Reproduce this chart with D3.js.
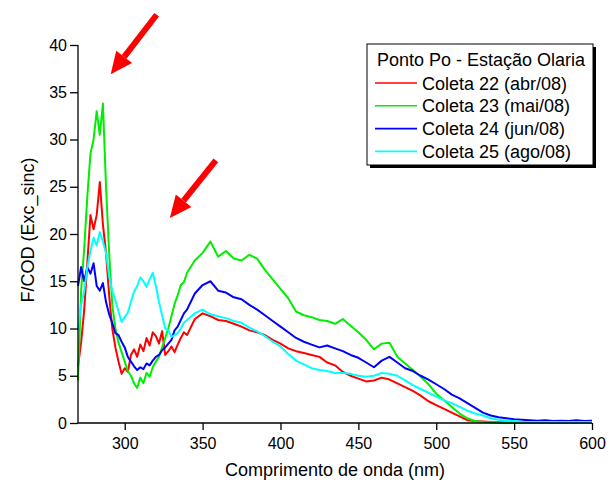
<!DOCTYPE html>
<html>
<head>
<meta charset="utf-8">
<script src="https://cdn.jsdelivr.net/npm/d3@7"></script>
<style>
  body { margin: 0; background: #fff; }
  text { font-family: "Liberation Sans", Arial, sans-serif; fill: #000; }
</style>
</head>
<body>
<div id="chart"></div>
<script>
// Wavelength grid (nm)
const wavelengths = [
  270, 272, 274, 276, 278, 280, 282, 284, 286, 288, 290, 292, 294, 296, 298, 300,
  302, 304, 306, 308, 310, 312, 314, 316, 318, 320, 322, 324, 326, 328, 330, 332,
  334, 336, 338, 340,
  345, 350, 355, 360, 365, 370, 375, 380, 385, 390, 395, 400, 405, 410, 415, 420,
  425, 430, 435, 440, 445, 450, 455, 460, 465, 470, 475, 480, 485, 490, 495, 500,
  505, 510, 515, 520, 525, 530, 535, 540, 545, 550, 555, 560, 565, 570, 575, 580,
  585, 590, 595, 600
];

// Coleta 22 (abr/08)
const coleta22 = [
  6.0, 8.5, 12.0, 17.0, 22.0, 20.5, 22.0, 25.5, 21.0, 18.0, 13.5, 10.0, 8.0, 6.5, 5.2, 5.8,
  5.4, 7.2, 7.8, 7.0, 8.3, 7.6, 9.0, 8.2, 9.6, 9.2, 8.4, 9.7, 7.2, 7.6, 8.1, 7.5,
  8.3, 9.0, 9.6, 9.3,
  11.0, 11.6, 11.3, 10.9, 10.8, 10.5, 10.2, 9.8, 9.6, 9.3, 8.8, 8.4, 7.9, 7.6, 7.4, 7.2,
  7.0, 6.4, 6.1, 5.4, 5.0, 4.7, 4.4, 4.5, 4.8, 4.6, 4.2, 3.8, 3.4, 2.9, 2.3, 1.9,
  1.5, 1.1, 0.7, 0.3, 0.2, 0.15, 0.1, 0.08, 0.06, 0.05, 0.05, 0.04, 0.04, 0.03, 0.03, 0.03,
  0.03, 0.02, 0.02, 0.02
];

// Coleta 23 (mai/08)
const coleta23 = [
  4.5, 14.0, 18.5, 24.0, 28.5, 30.0, 33.0, 30.5, 33.8, 25.0, 18.0, 12.5, 10.0, 8.5, 7.5, 6.5,
  5.5, 5.0, 4.2, 3.7, 4.8, 4.2, 5.3, 4.9, 5.9, 6.5, 7.0, 8.0, 9.0, 10.0, 11.3, 12.6,
  13.5, 14.6, 14.9, 15.9,
  17.2, 18.0, 19.2, 17.6, 18.2, 17.4, 17.2, 17.8, 17.4, 16.2, 15.2, 14.2, 13.2, 11.8, 11.4, 11.2,
  10.9, 10.8, 10.5, 11.0, 10.3, 9.6, 8.8, 7.8, 8.4, 8.5, 7.0, 6.3, 5.6, 4.9, 4.1, 3.1,
  2.4, 1.7, 1.0, 0.5, 0.2, 0.1, 0.05, 0.02, 0.01, 0.0, 0.0, 0.0, 0.0, 0.0, 0.0, 0.0,
  0.0, 0.0, 0.0, 0.0
];

// Coleta 24 (jun/08)
const coleta24 = [
  14.5, 16.5, 15.0, 16.5, 15.8, 16.9, 14.5, 14.0, 14.8, 12.8, 11.5, 10.6, 9.5, 9.3, 8.6, 8.0,
  7.0, 6.5, 6.0, 5.6, 5.9, 5.7, 6.3, 6.1, 6.6, 7.0, 7.2, 7.7, 8.0, 8.4, 8.8, 9.8,
  10.2, 10.9, 11.6, 12.0,
  13.7, 14.6, 15.0, 14.0, 13.8, 13.3, 13.1, 12.5, 12.0, 11.4, 10.8, 10.2, 9.6, 9.0, 8.6, 8.3,
  8.0, 8.2, 7.9, 7.6, 7.2, 6.9, 6.4, 5.9, 6.6, 7.0, 6.4, 5.8, 5.5, 5.0, 4.6, 4.1,
  3.6, 3.0, 2.6, 2.1, 1.6, 1.1, 0.8, 0.6, 0.5, 0.4, 0.35, 0.3, 0.25, 0.3, 0.22, 0.25,
  0.2, 0.28, 0.22, 0.25
];

// Coleta 25 (ago/08)
const coleta25 = [
  9.8, 12.5, 14.0, 16.5, 18.2, 19.6, 18.8, 20.2, 19.2, 18.0, 15.5, 14.0, 13.0, 11.8, 10.7, 11.2,
  11.7, 12.8, 13.9, 14.5, 15.4, 15.0, 14.4, 15.2, 15.9, 14.5, 12.8, 11.4, 10.0, 9.8, 9.1, 9.3,
  9.5, 10.0, 10.6, 10.9,
  11.6, 12.0, 11.5, 11.3, 11.1, 10.8, 10.6, 10.1, 9.7, 9.2, 8.6, 8.1, 7.3, 6.6, 6.2, 5.8,
  5.6, 5.5, 5.3, 5.3, 5.2, 5.0, 4.9, 5.0, 5.3, 5.2, 5.0, 4.5, 4.0, 3.6, 3.2, 2.8,
  2.4, 2.1, 1.7, 1.3, 1.0, 0.8, 0.5, 0.35, 0.25, 0.2, 0.12, 0.1, 0.1, 0.1, 0.1, 0.1,
  0.1, 0.1, 0.1, 0.1
];

const seriesNames = ["Coleta 22 (abr/08)", "Coleta 23 (mai/08)", "Coleta 24 (jun/08)", "Coleta 25 (ago/08)"];
const seriesValues = [coleta22, coleta23, coleta24, coleta25];
const seriesColors = ["#ff0000", "#00ee00", "#0000ff", "#00ffff"];

const xTicks = [300, 350, 400, 450, 500, 550, 600];
const yTicks = [0, 5, 10, 15, 20, 25, 30, 35, 40];

// Arrow annotations in data coordinates: [tailX, tailY, tipX, tipY]
const arrows = [
  [320.5, 43.2, 291, 36.9],
  [358.5, 27.8, 329, 21.7]
];

const width = 610, height = 486;
const margin = { left: 78, right: 18, top: 45, bottom: 63 };

const svg = d3.select("#chart")
  .append("svg")
  .attr("width", width)
  .attr("height", height);

const x = d3.scaleLinear()
  .domain([270, 600])
  .range([margin.left, width - margin.right]);

const y = d3.scaleLinear()
  .domain([0, 40])
  .range([height - margin.bottom, margin.top]);

// Curves
const line = d3.line()
  .x((d, i) => x(wavelengths[i]))
  .y(d => y(d));

svg.append("g")
  .selectAll("path")
  .data(seriesValues)
  .join("path")
  .attr("d", d => line(d))
  .attr("fill", "none")
  .attr("stroke", (d, i) => seriesColors[i])
  .attr("stroke-width", 2)
  .attr("stroke-linejoin", "round");

// X axis
const xAxis = svg.append("g")
  .attr("transform", `translate(0,${y(0)})`);

xAxis.call(d3.axisBottom(x)
  .tickValues(d3.range(275, 601, 25))
  .tickSize(4)
  .tickFormat(""));
xAxis.call(d3.axisBottom(x)
  .tickValues(xTicks)
  .tickSize(7)
  .tickPadding(8)
  .tickFormat(d3.format("d")));
xAxis.selectAll(".domain").remove();
xAxis.append("line")
  .attr("x1", x(270)).attr("x2", x(600))
  .attr("stroke", "#000").attr("stroke-width", 1.5);
xAxis.selectAll("line").attr("stroke", "#000").attr("stroke-width", 1.3);
xAxis.selectAll("text")
  .style("font-size", "16px")
  .style("font-family", "Liberation Sans, Arial, sans-serif");

// Y axis
const yAxis = svg.append("g")
  .attr("transform", `translate(${x(270)},0)`);

yAxis.call(d3.axisLeft(y)
  .tickValues(d3.range(2.5, 40, 5))
  .tickSize(4)
  .tickFormat(""));
yAxis.call(d3.axisLeft(y)
  .tickValues(yTicks)
  .tickSize(8)
  .tickPadding(3)
  .tickFormat(d3.format("d")));
yAxis.selectAll(".domain").remove();
yAxis.append("line")
  .attr("y1", y(0)).attr("y2", y(40))
  .attr("stroke", "#000").attr("stroke-width", 1.5);
yAxis.selectAll("line").attr("stroke", "#000").attr("stroke-width", 1.3);
yAxis.selectAll("text")
  .style("font-size", "16px")
  .style("font-family", "Liberation Sans, Arial, sans-serif");

// Axis titles
svg.append("text")
  .attr("x", (x(270) + x(600)) / 2)
  .attr("y", 476)
  .attr("text-anchor", "middle")
  .style("font-size", "18px")
  .text("Comprimento de onda (nm)");

svg.append("text")
  .attr("transform", `translate(34,${(y(0) + y(40)) / 2 - 4}) rotate(-90)`)
  .attr("text-anchor", "middle")
  .style("font-size", "18px")
  .text("F/COD (Exc_sinc)");

// Red arrows
arrows.forEach(([x1, y1, x2, y2]) => {
  const tx = x(x1), ty = y(y1), hx = x(x2), hy = y(y2);
  const ang = Math.atan2(hy - ty, hx - tx);
  const headLen = 22, headHalf = 10;
  const bx = hx - headLen * Math.cos(ang), by = hy - headLen * Math.sin(ang);
  svg.append("line")
    .attr("x1", tx).attr("y1", ty)
    .attr("x2", bx).attr("y2", by)
    .attr("stroke", "#ff0000")
    .attr("stroke-width", 6);
  const px = -Math.sin(ang), py = Math.cos(ang);
  svg.append("polygon")
    .attr("points", [
      [hx, hy],
      [bx + px * headHalf, by + py * headHalf],
      [bx - px * headHalf, by - py * headHalf]
    ].map(p => p.join(",")).join(" "))
    .attr("fill", "#ff0000");
});

// Legend
const lg = svg.append("g").attr("transform", "translate(367,44)");
lg.append("rect")
  .attr("x", 3).attr("y", 3)
  .attr("width", 226).attr("height", 121)
  .attr("fill", "#000");
lg.append("rect")
  .attr("width", 226).attr("height", 121)
  .attr("fill", "#fff")
  .attr("stroke", "#000")
  .attr("stroke-width", 1);
lg.append("text")
  .attr("x", 10).attr("y", 22)
  .style("font-size", "18px")
  .text("Ponto Po - Estação Olaria");

const items = lg.selectAll(".item")
  .data(seriesNames)
  .join("g")
  .attr("class", "item")
  .attr("transform", (d, i) => `translate(0,${39 + i * 22.8})`);
items.append("line")
  .attr("x1", 8).attr("x2", 50)
  .attr("stroke", (d, i) => seriesColors[i])
  .attr("stroke-width", 1.6);
items.append("text")
  .attr("x", 55).attr("y", 6.5)
  .style("font-size", "18px")
  .text(d => d);
</script>
</body>
</html>
